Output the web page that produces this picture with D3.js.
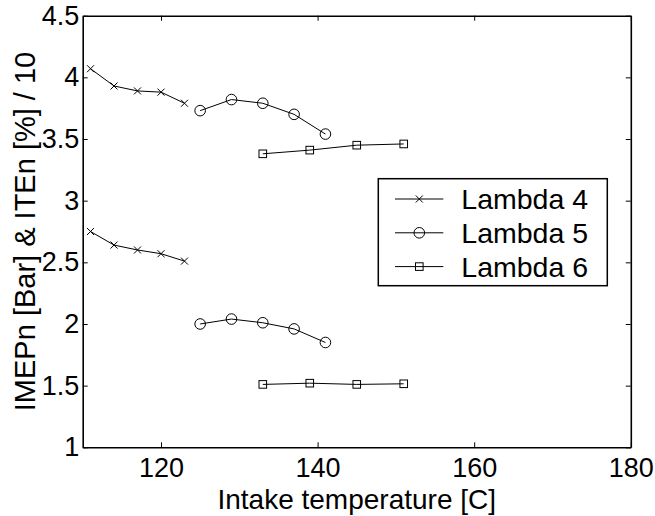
<!DOCTYPE html>
<html>
<head>
<meta charset="utf-8">
<script src="https://cdn.jsdelivr.net/npm/d3@7"></script>
<style>
  body { margin: 0; background: #fff; }
  text { font-family: "Liberation Sans", Arial, sans-serif; fill: #000; }
</style>
</head>
<body>
<div class="canvas"></div>
<script>
// data. upper group is ITEn/10, lower group is IMEPn.
const temps4 = [111, 114, 117, 120, 123];
const iten4 = [4.07, 3.93, 3.89, 3.88, 3.79];
const imep4 = [2.75, 2.64, 2.60, 2.57, 2.51];

const temps5 = [125, 129, 133, 137, 141];
const iten5 = [3.73, 3.82, 3.79, 3.70, 3.54];
const imep5 = [2.00, 2.04, 2.01, 1.96, 1.85];

const temps6 = [133, 139, 145, 151];
const iten6 = [3.38, 3.41, 3.45, 3.46];
const imep6 = [1.51, 1.52, 1.51, 1.515];

const seriesNames = ['Lambda 4', 'Lambda 5', 'Lambda 6'];
const markerKinds = ['x', 'o', 's'];
const xTicks = [120, 140, 160, 180];
const yTicks = [1, 1.5, 2, 2.5, 3, 3.5, 4, 4.5];

// dimensions and margins.
const svgDimensions = { width: 655, height: 516 };
const margin = { top: 15.7, right: 24.2, bottom: 68.7, left: 82.7 };
const graphWidth = svgDimensions.width - margin.left - margin.right;
const graphHeight = svgDimensions.height - margin.top - margin.bottom;

const svg = d3.select('.canvas')
    .append('svg')
        .attr('width', svgDimensions.width)
        .attr('height', svgDimensions.height);

const graph = svg.append('g')
    .attr('transform', `translate(${margin.left},${margin.top})`);

const x = d3.scaleLinear().domain([110, 180]).range([0, graphWidth]);
const y = d3.scaleLinear().domain([1, 4.5]).range([graphHeight, 0]);

// axes, ticks pointing inwards on all four sides (box on).
const tickLen = 5;
const xAxis = d3.axisBottom(x).tickValues(xTicks).tickSizeInner(-tickLen).tickSizeOuter(0).tickPadding(11);
const yAxis = d3.axisLeft(y).tickValues(yTicks).tickSizeInner(-tickLen).tickSizeOuter(0).tickPadding(3.5)
    .tickFormat(d3.format('~g'));
const xAxisTop = d3.axisTop(x).tickValues(xTicks).tickSizeInner(-tickLen).tickSizeOuter(0).tickFormat('');
const yAxisRight = d3.axisRight(y).tickValues(yTicks).tickSizeInner(-tickLen).tickSizeOuter(0).tickFormat('');

const styleAxis = g => {
    g.select('.domain').attr('stroke', '#000').attr('stroke-width', 1.6);
    g.selectAll('.tick line').attr('stroke', '#000').attr('stroke-width', 1);
    g.selectAll('.tick text').attr('font-size', 27).attr('font-family', null);
};

graph.append('g').attr('transform', `translate(0,${graphHeight})`).call(xAxis).call(styleAxis);
graph.append('g').call(yAxis).call(styleAxis);
graph.append('g').call(xAxisTop).call(styleAxis);
graph.append('g').attr('transform', `translate(${graphWidth},0)`).call(yAxisRight).call(styleAxis);

// axis labels
svg.append('text')
    .attr('x', margin.left + graphWidth / 2)
    .attr('y', 508.5)
    .attr('text-anchor', 'middle')
    .attr('font-size', 28)
    .text('Intake temperature [C]');

svg.append('text')
    .attr('transform', `translate(35,${margin.top + graphHeight / 2}) rotate(-90)`)
    .attr('text-anchor', 'middle')
    .attr('font-size', 29)
    .text('IMEPn [Bar] & ITEn [%] / 10');

// markers
const drawMarker = (sel, kind) => {
    if (kind === 'x') {
        sel.append('path').attr('d', 'M-3.5,-3.5L3.5,3.5M-3.5,3.5L3.5,-3.5');
    } else if (kind === 'o') {
        sel.append('circle').attr('r', 5.3);
    } else {
        sel.append('rect').attr('x', -3.8).attr('y', -3.8).attr('width', 7.6).attr('height', 7.6);
    }
};

const line = d3.line().x(d => x(d[0])).y(d => y(d[1]));

const groups = [
    { kind: 'x', temps: temps4, vals: [iten4, imep4] },
    { kind: 'o', temps: temps5, vals: [iten5, imep5] },
    { kind: 's', temps: temps6, vals: [iten6, imep6] }
];

groups.forEach(grp => {
    grp.vals.forEach(vals => {
        const pts = grp.temps.map((t, i) => [t, vals[i]]);
        graph.append('path')
            .datum(pts)
            .attr('d', line)
            .attr('fill', 'none')
            .attr('stroke', '#000')
            .attr('stroke-width', 1);
        graph.selectAll(null)
            .data(pts)
            .enter()
            .append('g')
                .attr('transform', d => `translate(${x(d[0])},${y(d[1])})`)
                .attr('fill', 'none')
                .attr('stroke', '#000')
                .attr('stroke-width', 1)
                .each(function(){ drawMarker(d3.select(this), grp.kind); });
    });
});

// legend
const legendGroup = svg.append('g').attr('transform', 'translate(378.3,178.7)');
legendGroup.append('rect')
    .attr('width', 229)
    .attr('height', 107)
    .attr('fill', '#fff')
    .attr('stroke', '#000')
    .attr('stroke-width', 1.5);

const rows = legendGroup.selectAll('g.row')
    .data(seriesNames)
    .enter()
    .append('g')
        .attr('class', 'row')
        .attr('transform', (d, i) => `translate(0,${20.3 + i * 33.8})`);

rows.append('line')
    .attr('x1', 16.7).attr('x2', 65)
    .attr('stroke', '#000').attr('stroke-width', 1);

rows.append('g')
    .attr('transform', 'translate(41,0)')
    .attr('fill', 'none')
    .attr('stroke', '#000')
    .attr('stroke-width', 1)
    .each(function(d, i){ drawMarker(d3.select(this), markerKinds[i]); });

rows.append('text')
    .attr('x', 83)
    .attr('y', 10)
    .attr('font-size', 28.5)
    .text(d => d);
</script>
</body>
</html>
